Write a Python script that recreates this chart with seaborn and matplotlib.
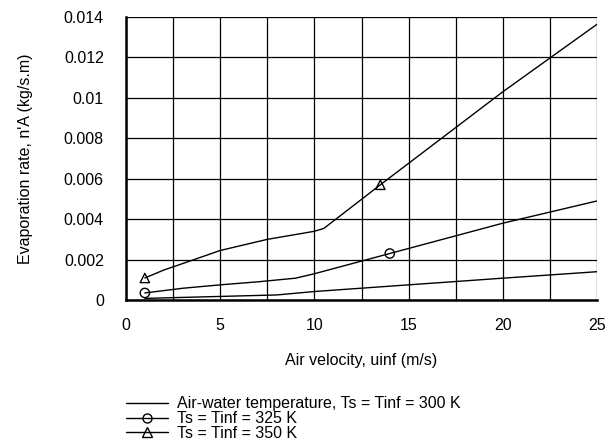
import numpy as np
import pandas as pd
import matplotlib
matplotlib.use('Agg')
import matplotlib.pyplot as plt
import seaborn as sns
from matplotlib.lines import Line2D

# evaporation rate curves
u_300 = [1, 8, 10, 15, 20, 25]
n_300 = [0.00008, 0.00025, 0.00042, 0.00075, 0.00108, 0.0014]

u_325 = [1, 3, 5, 7, 9, 10, 14, 20, 25]
n_325 = [0.00035, 0.00058, 0.00075, 0.0009, 0.00108, 0.0013, 0.0023, 0.0038, 0.0049]

u_350 = [1, 2, 3, 5, 7.5, 10, 10.5, 13.5, 20, 25]
n_350 = [0.00109, 0.00148, 0.0018, 0.00245, 0.003, 0.0034, 0.00354, 0.0057, 0.0103, 0.01364]

# single marker positions
mk_u_325 = [1, 14]
mk_n_325 = [0.00035, 0.0023]
mk_u_350 = [1, 13.5]
mk_n_350 = [0.00109, 0.0057]

labels = ['Air-water temperature, Ts = Tinf = 300 K',
          'Ts = Tinf = 325 K',
          'Ts = Tinf = 350 K']

sns.set_style('white')
plt.rcParams['font.family'] = ['Liberation Sans', 'DejaVu Sans']
plt.rcParams['text.color'] = 'black'
plt.rcParams['axes.labelcolor'] = 'black'
plt.rcParams['xtick.color'] = 'black'
plt.rcParams['ytick.color'] = 'black'
fs = 11.5

df = pd.concat([
    pd.DataFrame({'u': u_300, 'n': n_300, 's': labels[0]}),
    pd.DataFrame({'u': u_325, 'n': n_325, 's': labels[1]}),
    pd.DataFrame({'u': u_350, 'n': n_350, 's': labels[2]}),
])

fig = plt.figure(figsize=(6.09, 4.44), dpi=100)
ax = fig.add_axes([0.2069, 0.3243, 0.7734, 0.6374])

sns.lineplot(data=df, x='u', y='n', units='s', estimator=None, sort=False,
             color='black', lw=1, ax=ax, legend=False)
sns.scatterplot(x=mk_u_325, y=mk_n_325, marker='o', s=45, facecolor='none',
                edgecolor='black', linewidth=1, ax=ax, legend=False, zorder=5)
sns.scatterplot(x=mk_u_350, y=mk_n_350, marker='^', s=45, facecolor='none',
                edgecolor='black', linewidth=1, ax=ax, legend=False, zorder=5)

ax.set_xlim(0, 25)
ax.set_ylim(0, 0.014)
ax.set_xticks([0, 5, 10, 15, 20, 25])
ax.set_xticks(np.arange(0, 25.1, 2.5), minor=True)
ax.set_yticks(np.arange(0, 0.0141, 0.002))
ax.set_yticklabels(['0', '0.002', '0.004', '0.006', '0.008', '0.01', '0.012', '0.014'])
ax.grid(True, which='both', color='black', lw=0.9)
ax.tick_params(axis='both', which='both', direction='out', length=6, width=1,
               color='black', labelcolor='black', labelsize=fs)
ax.tick_params(axis='y', pad=10)
ax.tick_params(axis='x', which='major', pad=7)

for side in ['top', 'right']:
    ax.spines[side].set_visible(False)
for side in ['left', 'bottom']:
    ax.spines[side].set_color('black')
    ax.spines[side].set_linewidth(1.8)

ax.set_xlabel('Air velocity, uinf (m/s)', fontsize=fs, va='center', color='black')
ax.set_ylabel("Evaporation rate, n'A (kg/s.m)", fontsize=fs, va='center', color='black')
ax.xaxis.set_label_coords(0.5, -0.2155)
ax.yaxis.set_label_coords(-0.2144, 0.5)

handles = [
    Line2D([], [], color='black', lw=1),
    Line2D([], [], color='black', lw=1, marker='o', mfc='none', ms=6.5),
    Line2D([], [], color='black', lw=1, marker='^', mfc='none', ms=6.5),
]
fig.legend(handles, labels, loc='upper left', bbox_to_anchor=(0.2069, 0.107),
           frameon=False, fontsize=fs, labelspacing=-0.02, handlelength=2.6,
           handletextpad=0.6, borderaxespad=0, borderpad=0, labelcolor='black')

fig.savefig('out.png', dpi=100)
